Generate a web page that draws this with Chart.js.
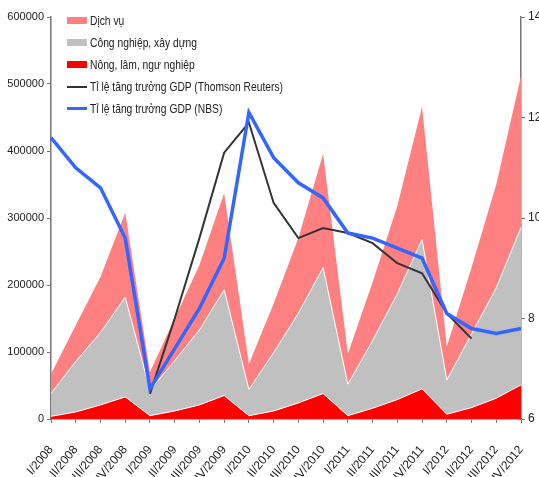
<!DOCTYPE html>
<html>
<head>
<meta charset="utf-8">
<script src="https://cdn.jsdelivr.net/npm/chart.js@4"></script>
<style>
  body { margin: 0; background: #fff; }
  #wrap { position: relative; width: 539px; height: 477px; }
  #legend { position: absolute; left: 67px; top: 10px; font: 13px 'Liberation Sans', Arial, sans-serif; color: #222; }
  #legend div { height: 21.9px; display: flex; align-items: center; white-space: nowrap; }
  #legend span.key { display: inline-block; width: 20px; margin-right: 3px; flex: none; }
  #legend span.txt { display: inline-block; transform-origin: left center; }
</style>
</head>
<body>
<div id="wrap">
  <canvas id="gdpCanvas" width="539" height="477"></canvas>
  <div id="legend"></div>
</div>
<script>
// quý
const quarters = ["I/2008", "II/2008", "III/2008", "IV/2008", "I/2009", "II/2009", "III/2009", "IV/2009",
  "I/2010", "II/2010", "III/2010", "IV/2010", "I/2011", "II/2011", "III/2011", "IV/2011",
  "I/2012", "II/2012", "III/2012", "IV/2012"];

// GDP theo ngành (trục trái)
const nongNghiep = [4000, 10500, 21000, 33000, 5000, 12000, 21000, 35000, 5000, 12000,
  24000, 38000, 5000, 16000, 29000, 45000, 7000, 17000, 31000, 51000];
const congNghiep = [34000, 75500, 108000, 149000, 38000, 75000, 112000, 158000, 39000, 87000,
  134000, 188000, 47000, 101000, 158000, 223000, 51000, 110000, 165000, 235000];
const dichVu = [29000, 54000, 83000, 126000, 27000, 63000, 97000, 144000, 38000, 73000,
  112000, 170000, 45000, 87000, 131000, 198000, 50000, 99000, 154000, 226000];

// tỉ lệ tăng trưởng (trục phải)
const tangTruongTR = [null, null, null, null, 6.5, 8.0, 9.6, 11.3, 11.9, 10.3,
  9.6, 9.8, 9.7, 9.5, 9.1, 8.9, 8.1, 7.6, null, null];
const tangTruongNBS = [11.6, 11.0, 10.6, 9.6, 6.6, 7.4, 8.2, 9.2, 12.1, 11.2,
  10.7, 10.4, 9.7, 9.6, 9.4, 9.2, 8.1, 7.8, 7.7, 7.8];

const leftTicks = [0, 100000, 200000, 300000, 400000, 500000, 600000];
const rightTicks = [6, 8, 10, 12, 14];

const fontFamily = "'Liberation Sans', Arial, sans-serif";
const axisColor = "#777";

const canvas = document.getElementById("gdpCanvas");
const gdpChart = new Chart(canvas, {
    type: "line",
    data: {
        labels: quarters,
        datasets: [
            { label: "Nông, lâm, ngư nghiệp", data: nongNghiep, yAxisID: "y", order: 2,
              backgroundColor: "#ff0000", borderColor: "#ffffff", borderWidth: 1, fill: "origin" },
            { label: "Công nghiệp, xây dựng", data: congNghiep, yAxisID: "y", order: 3,
              backgroundColor: "#c0c0c0", borderColor: "#ffffff", borderWidth: 1, fill: "-1" },
            { label: "Dịch vụ", data: dichVu, yAxisID: "y", order: 4,
              backgroundColor: "#ff8080", borderColor: "#ff8080", borderWidth: 0, fill: "-1" },
            { label: "Tỉ lệ tăng trưởng GDP (Thomson Reuters)", data: tangTruongTR, yAxisID: "y1", order: 1,
              borderColor: "#333333", borderWidth: 2, fill: false },
            { label: "Tỉ lệ tăng trưởng GDP (NBS)", data: tangTruongNBS, yAxisID: "y1", order: 0,
              borderColor: "#3366ff", borderWidth: 3.5, fill: false }
        ]
    },
    options: {
        responsive: false,
        animation: false,
        devicePixelRatio: 1,
        layout: { padding: { top: 17, left: 0, right: 0, bottom: 0 } },
        elements: { point: { radius: 0 }, line: { tension: 0 } },
        plugins: { legend: { display: false }, tooltip: { enabled: false } },
        scales: {
            x: {
                offset: false,
                grid: { drawOnChartArea: false, tickLength: 4, color: axisColor },
                border: { color: axisColor, width: 1.5 },
                ticks: { autoSkip: false, minRotation: 50, maxRotation: 50, padding: 20,
                         color: "#222", font: { family: fontFamily, size: 12 } },
                afterFit: (s) => { s.height = 58; s.paddingLeft = 0; s.paddingRight = 0; }
            },
            y: {
                position: "left",
                stacked: true,
                min: 0, max: 600000,
                afterBuildTicks: (s) => { s.ticks = leftTicks.map(v => ({ value: v })); },
                grid: { drawOnChartArea: false, tickLength: 4, color: axisColor },
                border: { color: axisColor, width: 1.5 },
                ticks: { padding: 3, color: "#222", font: { family: fontFamily, size: 11 },
                         callback: (v) => String(v) },
                afterFit: (s) => { s.width = 51; }
            },
            y1: {
                position: "right",
                min: 6, max: 14,
                afterBuildTicks: (s) => { s.ticks = rightTicks.map(v => ({ value: v })); },
                grid: { drawOnChartArea: false, tickLength: 4, color: axisColor },
                border: { color: axisColor, width: 1.5 },
                ticks: { padding: 3, color: "#222", font: { family: fontFamily, size: 12 } },
                afterFit: (s) => { s.width = 18; }
            }
        }
    }
});

// chú thích
const legendItems = [
    { text: "Dịch vụ", color: "#ff8080", kind: "box" },
    { text: "Công nghiệp, xây dựng", color: "#c0c0c0", kind: "box" },
    { text: "Nông, lâm, ngư nghiệp", color: "#ff0000", kind: "box" },
    { text: "Tỉ lệ tăng trưởng GDP (Thomson Reuters)", color: "#333333", kind: "line", w: 2 },
    { text: "Tỉ lệ tăng trưởng GDP (NBS)", color: "#3366ff", kind: "line", w: 3 }
];
const legendEl = document.getElementById("legend");
const texts = [];
legendItems.forEach(it => {
    const row = document.createElement("div");
    const key = document.createElement("span");
    key.className = "key";
    key.style.background = it.color;
    key.style.height = it.kind === "box" ? "7px" : it.w + "px";
    const txt = document.createElement("span");
    txt.className = "txt";
    txt.textContent = it.text;
    row.appendChild(key);
    row.appendChild(txt);
    legendEl.appendChild(row);
    texts.push(txt);
});
// chữ hẹp như Arial Narrow: dòng Thomson Reuters rộng khoảng 193px
const sx = 193 / texts[3].getBoundingClientRect().width;
texts.forEach(t => { t.style.transform = "scaleX(" + sx + ")"; });
</script>
</body>
</html>
